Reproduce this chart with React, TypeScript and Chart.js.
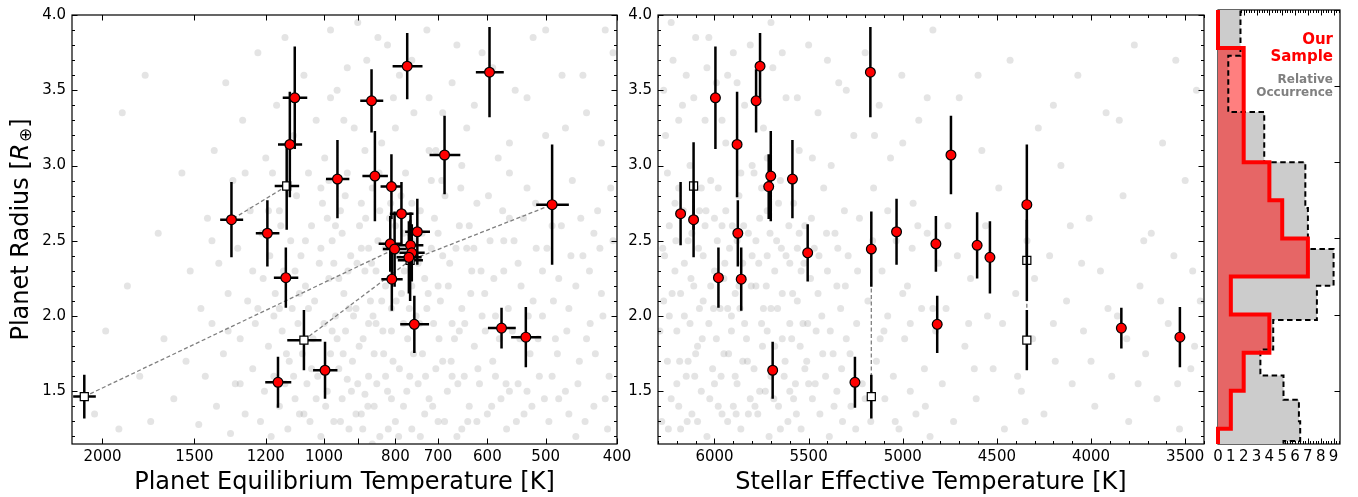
import React, { useEffect, useRef } from "react";
import { Chart, registerables } from "chart.js";

Chart.register(...registerables);

const FONT = "'DejaVu Sans', 'Liberation Sans', sans-serif";
const H = 497;

// ---------------- Sample planets ----------------
// last four entries are the alternative-host solutions (white squares)
const teq = [1336, 1194, 1096, 1113, 959, 862, 771, 596, 853, 810, 686, 785, 747, 490, 813, 802, 763, 760, 767, 1127, 809, 754, 997, 1155, 574, 532, 2117, 1124, 1065, 764];
const teqErr = [48, 44, 42, 42, 35, 31, 36, 26, 34, 28, 33, 29, 29, 25, 30, 30, 30, 30, 30, 43, 27, 34, 38, 47, 25, 25, 75, 43, 57, 30];
const teff = [6111, 5876, 5995, 5880, 5586, 5779, 5758, 5172, 5701, 5712, 4744, 6180, 5033, 4341, 4824, 5167, 4605, 5505, 4537, 5979, 5858, 4817, 5691, 5254, 3839, 3528, 5167, 6111, 4341, 4341];
const rad = [2.64, 2.55, 3.45, 3.14, 2.91, 3.43, 3.66, 3.62, 2.93, 2.86, 3.07, 2.68, 2.56, 2.74, 2.48, 2.445, 2.47, 2.42, 2.39, 2.255, 2.245, 1.945, 1.64, 1.56, 1.92, 1.86, 1.465, 2.864, 1.84, 2.37];
const radErr = [0.25, 0.22, 0.34, 0.35, 0.26, 0.21, 0.22, 0.30, 0.30, 0.215, 0.26, 0.21, 0.22, 0.40, 0.185, 0.25, 0.22, 0.19, 0.24, 0.20, 0.21, 0.19, 0.19, 0.17, 0.135, 0.20, 0.145, 0.29, 0.20, 0.27];
const altHost = [0, 0, 0, 0, 0, 0, 0, 0, 0, 0, 0, 0, 0, 0, 0, 0, 0, 0, 0, 0, 0, 0, 0, 0, 0, 0, 1, 1, 1, 1];
// planets in the same system (connected by dashed lines)
const systems = [[27, 0], [26, 15], [28, 29, 13]];

// ---------------- Histogram ----------------
const sampleEdges = [1.0, 1.25, 1.5, 1.75, 2.0, 2.25, 2.5, 2.75, 3.0, 3.25, 3.5, 3.75, 4.0];
const sampleCounts = [0, 1, 2, 4, 1, 7, 5, 4, 2, 2, 2, 0];
const occEdges = [1.05, 1.17, 1.30, 1.44, 1.60, 1.77, 1.965, 2.19, 2.43, 2.70, 3.0, 3.33, 3.70, 4.11];
const occCounts = [5.1, 6.4, 6.3, 5.1, 3.3, 4.3, 7.7, 9.0, 7.0, 6.8, 3.6, 0.8, 1.75];

// ---------------- Background population ----------------
const bgTeqRad = [
  [2050, 1.35], [1980, 1.9], [1900, 1.25], [1850, 2.2], [1780, 1.6], [1720, 1.3], [1680, 2.55], [1650, 1.85], [1600, 1.45], [1560, 2.95], [1540, 1.7], [1520, 2.3], [1880, 3.35], [1750, 3.6],
  [1480, 1.28], [1470, 2.05], [1450, 1.6], [1440, 2.65], [1420, 1.95], [1410, 3.1], [1400, 1.4], [1390, 2.35], [1370, 1.75], [1360, 3.55], [1350, 2.15], [1340, 1.22], [1330, 2.9], [1320, 1.55], [1310, 2.45], [1300, 1.85], [1290, 3.3], [1280, 1.35], [1270, 2.1], [1260, 2.7], [1250, 1.65], [1240, 1.95], [1230, 3.75], [1220, 1.3], [1215, 2.55], [1210, 2.25], [1205, 1.5], [1200, 3.05],
  [1190, 1.8], [1185, 2.4], [1180, 1.2], [1175, 2.95], [1170, 1.6], [1165, 2.15], [1160, 3.4], [1150, 1.4], [1145, 2.6], [1140, 1.9], [1135, 2.3], [1130, 3.85], [1120, 1.25], [1115, 1.7], [1110, 2.5], [1105, 2.05], [1100, 3.2], [1095, 1.45], [1090, 2.8], [1085, 1.95], [1080, 1.35], [1075, 2.4], [1070, 1.75], [1065, 3.6], [1060, 2.2], [1055, 1.55], [1050, 2.95], [1045, 1.3], [1040, 2.6], [1035, 1.85], [1030, 2.1], [1025, 3.3], [1020, 1.6], [1015, 2.35], [1010, 1.2], [1005, 2.75], [1000, 1.95], [998, 3.05],
  [990, 1.5], [985, 2.25], [980, 1.75], [975, 2.5], [970, 1.3], [965, 2.0], [960, 3.5], [955, 1.65], [950, 2.7], [945, 1.45], [940, 2.15], [935, 1.9], [930, 2.95], [925, 1.25], [920, 2.4], [915, 1.7], [910, 3.25], [905, 2.05], [900, 1.55], [895, 2.6], [890, 1.35], [885, 1.85], [880, 2.3], [875, 3.7], [870, 1.6], [865, 2.1], [860, 2.85], [855, 1.4], [850, 1.95], [845, 2.5], [840, 1.2], [835, 3.15], [830, 1.75], [825, 2.2], [820, 1.5], [815, 2.65], [810, 1.9], [805, 3.45], [800, 1.3], [980, 3.9], [940, 3.3], [900, 3.95], [860, 1.15], [820, 3.8], [890, 2.45], [850, 2.3], [810, 2.05], [970, 2.35], [930, 1.58], [880, 1.48],
  [795, 2.4], [790, 1.65], [785, 2.15], [780, 1.4], [775, 2.95], [770, 1.85], [765, 2.55], [760, 1.25], [755, 3.35], [750, 2.0], [745, 1.55], [740, 2.7], [735, 1.75], [730, 2.25], [725, 3.9], [720, 1.45], [715, 2.45], [710, 1.95], [705, 3.1], [700, 1.3], [695, 2.1], [690, 1.7], [685, 2.8], [680, 1.5], [675, 2.35], [670, 3.55], [665, 1.85], [660, 1.2], [655, 2.6], [650, 2.05], [645, 1.6], [640, 3.25], [635, 1.4], [630, 2.3], [625, 1.8], [620, 2.75], [615, 1.55], [610, 3.75], [605, 2.15], [600, 1.35], [790, 3.6], [760, 2.2], [730, 1.35], [700, 2.55], [670, 1.95], [640, 2.45], [780, 1.95], [720, 3.45], [650, 1.25], [610, 2.0],
  [595, 2.5], [590, 1.7], [585, 2.0], [580, 3.05], [575, 1.45], [570, 2.3], [565, 1.25], [560, 2.65], [555, 1.9], [550, 3.5], [545, 1.55], [540, 2.2], [535, 1.35], [530, 2.85], [525, 1.75], [520, 3.85], [515, 2.45], [510, 1.6], [505, 2.0], [500, 3.2], [495, 1.3], [490, 2.6], [485, 1.85], [480, 2.25], [475, 3.6], [470, 1.5], [465, 2.05], [460, 2.9], [455, 1.2], [450, 1.7], [445, 2.4], [440, 3.35], [435, 1.95], [430, 1.4], [425, 2.7], [420, 2.15], [415, 3.9], [410, 1.6], [405, 2.5], [560, 1.5], [520, 2.1], [480, 1.45], [440, 1.85],
  [960, 1.85], [945, 2.55], [925, 2.05], [905, 1.35], [890, 2.75], [870, 2.45], [855, 1.75], [840, 2.7], [825, 1.6], [800, 2.6], [780, 2.55], [765, 1.6], [745, 2.35], [725, 2.05], [705, 1.65], [690, 2.4], [670, 1.6], [655, 1.9], [635, 2.6], [620, 1.3], [990, 2.65], [1010, 2.45], [1040, 1.65], [1060, 2.5], [1080, 2.15], [1100, 1.6], [1130, 1.55], [1150, 2.05], [870, 1.95], [835, 2.1], [810, 1.45], [760, 2.75], [740, 1.2], [715, 2.9], [700, 2.2], [585, 1.6], [570, 2.5], [545, 2.35], [530, 1.5], [505, 2.3], [490, 1.6], [465, 1.35], [455, 2.2], [430, 2.55], [415, 1.45],
  [995, 1.4], [985, 2.9], [975, 1.9], [965, 2.6], [955, 2.25], [950, 1.3], [942, 1.75], [936, 2.8], [928, 2.3], [918, 1.5], [912, 2.0], [902, 2.35], [896, 1.8], [886, 1.25], [878, 2.65], [872, 1.4], [862, 2.35], [858, 2.0], [848, 1.55], [842, 2.95], [832, 1.9], [826, 2.45], [818, 1.25], [812, 2.75], [806, 1.7], [798, 2.1], [792, 1.2], [786, 2.8], [778, 2.3], [772, 1.5], [766, 2.05], [756, 1.75], [752, 2.5], [742, 1.95], [736, 2.55], [728, 1.6], [722, 2.15], [712, 1.4], [708, 2.65], [698, 1.85], [692, 2.9], [686, 1.3], [678, 2.2], [672, 1.7], [662, 2.45], [658, 1.55], [652, 2.85], [644, 1.95], [638, 1.3], [632, 2.15], [626, 2.45], [618, 1.65], [612, 2.3], [604, 1.9], [598, 2.8], [592, 1.4], [588, 2.25], [578, 1.85], [572, 2.7], [566, 1.55], [562, 2.05], [552, 2.5], [548, 1.3], [542, 1.85], [536, 2.65], [528, 2.0], [522, 1.4], [516, 2.75], [512, 1.85], [502, 1.45], [498, 2.45], [488, 2.1], [482, 1.75], [476, 2.6], [468, 1.9], [462, 2.4], [452, 1.55], [448, 2.65], [442, 1.3], [436, 2.3], [428, 1.75], [422, 2.45], [418, 2.0], [412, 1.25], [408, 2.85],
  [1190, 2.7], [1170, 2.0], [1150, 2.7], [1125, 1.75], [1095, 2.3], [1065, 1.35], [1050, 2.05], [1025, 1.45], [1010, 2.85], [1250, 2.3], [1300, 1.55], [1350, 1.9], [1420, 2.5], [1280, 2.95], [1230, 2.05],
  [980, 3.45], [930, 3.65], [880, 3.1], [845, 3.85], [800, 3.25], [760, 3.7], [720, 3.1], [690, 3.35], [660, 3.8], [625, 3.4], [590, 3.65], [560, 3.15], [530, 3.45], [500, 3.9], [470, 3.25], [445, 3.6], [420, 3.15], [405, 3.75], [650, 3.0], [560, 2.95],
];
const bgTeffRad = [
  [6280, 1.3], [6270, 2.1], [6260, 3.2], [6250, 1.7], [6240, 2.6], [6230, 1.45], [6220, 3.7], [6210, 2.3], [6200, 1.9], [6190, 2.85], [6180, 1.25], [6170, 3.4], [6160, 2.0], [6150, 1.6], [6140, 2.5], [6130, 3.0], [6120, 1.35], [6110, 2.2], [6100, 3.85], [6090, 1.8], [6080, 2.7], [6070, 1.5], [6060, 2.4], [6050, 3.3], [6040, 1.2], [6030, 1.95], [6020, 2.9], [6010, 1.65], [6000, 2.3], [5990, 3.55], [5980, 1.4], [5970, 2.05], [5960, 2.6], [5950, 1.75], [5940, 3.15], [5930, 1.3], [5920, 2.45], [5910, 1.9], [5900, 3.75], [5890, 2.15], [5880, 1.55], [5870, 2.8], [5860, 1.25], [5850, 2.35], [5840, 3.4], [5830, 1.85], [5820, 2.55], [5810, 1.45], [5800, 3.0], [6250, 2.95], [6150, 3.6], [6050, 2.6], [5950, 2.25], [5850, 1.7], [6200, 1.55], [6100, 1.75], [6000, 1.55], [5900, 1.4], [6275, 2.45], [6180, 2.15], [6080, 2.05], [5980, 2.85], [5880, 2.5], [6230, 3.95], [6130, 1.95], [6030, 3.85], [5930, 3.6],
  [5790, 1.65], [5780, 2.2], [5770, 1.35], [5760, 2.65], [5750, 1.95], [5740, 3.25], [5730, 1.5], [5720, 2.4], [5710, 1.2], [5700, 2.05], [5690, 3.65], [5680, 1.8], [5670, 2.5], [5660, 1.4], [5650, 2.9], [5640, 2.15], [5630, 1.6], [5620, 3.45], [5610, 1.3], [5600, 2.35], [5590, 1.85], [5580, 2.75], [5570, 1.55], [5560, 2.1], [5550, 3.1], [5540, 1.25], [5530, 1.95], [5520, 2.6], [5510, 1.7], [5500, 3.8], [5490, 2.25], [5480, 1.45], [5470, 2.45], [5460, 1.9], [5450, 3.35], [5440, 1.35], [5430, 2.0], [5420, 2.85], [5410, 1.6], [5400, 2.3], [5390, 1.2], [5380, 3.0], [5370, 1.75], [5360, 2.55], [5350, 1.5], [5340, 3.55], [5330, 2.05], [5320, 1.3], [5310, 2.7], [5300, 1.85], [5750, 2.85], [5650, 1.25], [5550, 2.55], [5450, 2.15], [5350, 2.2], [5700, 3.95], [5600, 1.5], [5500, 1.55],
  [5290, 2.4], [5275, 1.4], [5260, 3.2], [5245, 1.95], [5230, 2.65], [5215, 1.55], [5200, 3.75], [5185, 2.1], [5170, 1.3], [5155, 2.85], [5140, 1.7], [5125, 3.4], [5110, 2.3], [5095, 1.45], [5080, 2.0], [5065, 3.05], [5050, 1.6], [5035, 2.5], [5020, 1.25], [5005, 3.6], [4990, 1.85], [4975, 2.2], [4960, 1.5], [4945, 2.75], [4930, 1.35], [4915, 3.3], [4900, 2.05], [4885, 1.65], [4870, 2.55], [4855, 1.2], [4840, 3.9], [4825, 1.9], [4810, 2.35], [5250, 1.25], [5100, 1.9], [4950, 2.45],
  [4790, 1.55], [4760, 2.6], [4730, 1.3], [4700, 3.45], [4670, 1.8], [4640, 2.25], [4610, 1.45], [4580, 3.1], [4550, 2.0], [4520, 1.65], [4490, 2.85], [4460, 1.25], [4430, 3.7], [4400, 2.15], [4370, 1.5], [4340, 2.5], [4310, 1.85], [4280, 3.25], [4250, 1.35], [4220, 2.4], [4190, 1.7], [4160, 3.0], [4130, 2.1], [4100, 1.55], [4070, 3.6], [4040, 1.9], [4010, 2.65], [3980, 1.4], [3950, 2.3], [3920, 3.35], [3890, 1.6], [3860, 2.0], [3830, 2.8], [3800, 1.3], [3770, 3.8], [3740, 2.2], [3710, 1.75], [3680, 2.55], [3650, 1.45], [3620, 3.15], [3590, 1.95], [3560, 2.4], [3530, 1.25], [3500, 2.9], [3470, 1.65], [3440, 3.5], [3420, 2.1], [4650, 1.95], [4350, 1.3], [4050, 2.35], [3750, 1.55], [3450, 1.8],
  [6240, 2.0], [6190, 1.4], [6160, 2.35], [6120, 2.55], [6090, 1.3], [6060, 2.1], [6020, 2.2], [5990, 1.85], [5960, 1.35], [5940, 2.7], [5910, 2.0], [5890, 1.6], [5870, 2.2], [5840, 1.95], [5820, 1.35], [5800, 2.4], [5780, 2.5], [5760, 1.5], [5740, 2.05], [5720, 2.7], [5700, 1.6], [5680, 2.3], [5660, 2.75], [5640, 1.85], [5620, 2.4], [5600, 1.95], [5580, 1.45], [5560, 2.45], [5540, 2.3], [5520, 1.65], [6210, 2.75], [6140, 1.7], [6070, 2.85], [6000, 2.65], [5930, 2.05], [5860, 2.95], [5790, 2.95], [5720, 1.9],
  [6290, 1.9], [6265, 2.4], [6245, 1.25], [6225, 2.15], [6205, 2.5], [6185, 1.7], [6165, 2.7], [6145, 1.3], [6125, 2.25], [6105, 1.6], [6085, 2.45], [6065, 1.85], [6045, 2.7], [6025, 1.45], [6005, 2.05], [5985, 2.5], [5965, 1.6], [5945, 2.35], [5925, 1.75], [5905, 2.6], [5885, 1.35], [5865, 2.05], [5845, 2.6], [5825, 1.7], [5805, 2.2], [5785, 1.4], [5765, 2.35], [5745, 1.8], [5725, 2.2], [5705, 2.55], [5685, 1.45], [5665, 2.05], [5645, 2.45], [5625, 1.7], [5605, 2.6], [5585, 2.15], [5565, 1.35], [5545, 1.8], [5525, 2.35], [5505, 1.95], [5485, 2.65], [5465, 1.55], [5445, 2.4], [5425, 1.75], [5405, 2.55], [5385, 1.9], [5365, 1.4], [5345, 2.45], [5325, 1.65], [5305, 2.2],
  [6270, 3.5], [6190, 3.3], [6110, 3.45], [6040, 3.65], [5960, 3.3], [5880, 3.55], [5810, 3.8], [5720, 3.05], [5640, 3.75], [5560, 3.45], [5480, 3.05], [5400, 3.7],
  [5280, 1.75], [5240, 2.3], [5200, 1.45], [5160, 2.5], [5120, 1.85], [5080, 2.7], [5040, 1.3], [5000, 2.15], [4960, 1.95], [4920, 2.6], [4880, 1.4], [4840, 2.05], [5300, 3.5], [5150, 3.2], [5000, 3.15], [4870, 3.45],
  [4770, 2.05], [4710, 2.4], [4620, 1.65], [4560, 2.6], [4470, 1.95], [4390, 1.6], [4300, 2.25], [4200, 1.95], [4110, 2.6], [4000, 1.7], [3910, 2.05], [3810, 1.85], [3720, 2.5], [3630, 2.1], [3540, 1.55], [3460, 2.3], [4600, 3.6], [4200, 3.4], [3850, 3.3], [3550, 3.7],
];

// ---------------- Axis ticks ----------------
const teqTicks = [2000, 1500, 1200, 1000, 900, 800, 700, 600, 500, 400];
const teqTickLabels = ["2000", "1500", "1200", "1000", "", "800", "700", "600", "500", "400"];
const teffTicks = [6000, 5500, 5000, 4500, 4000, 3500];
const radTicks = [1.5, 2.0, 2.5, 3.0, 3.5, 4.0];
const countTicks = [0, 1, 2, 3, 4, 5, 6, 7, 8, 9];

function range(a: number, b: number, step: number) {
  const out: number[] = [];
  for (let k = 0; a + k * step <= b + 1e-9; k++) out.push(+(a + k * step).toFixed(4));
  return out;
}
const radMinor = range(1.2, 4.0, 0.1);
const teffMinor = range(3400, 6300, 100);
const countMinor = range(0, 9.4, 0.2);

const tickFont = { family: FONT, size: 15 };
const BG = "rgba(128,128,128,0.21)";

// ---------------- Plugins ----------------
function framePlugin(cfg: any) {
  const draw = (chart: any) => {
    const { ctx, chartArea: a } = chart;
    const xs = chart.scales.x, ys = chart.scales.y;
    ctx.save();
    ctx.strokeStyle = "#000";
    ctx.lineWidth = 1;
    ctx.beginPath();
    const tickX = (vals: number[], len: number) =>
      vals.forEach((v) => {
        const p = Math.round(xs.getPixelForValue(v)) + 0.5;
        if (p < a.left - 1 || p > a.right + 1) return;
        ctx.moveTo(p, a.bottom); ctx.lineTo(p, a.bottom - len);
        ctx.moveTo(p, a.top); ctx.lineTo(p, a.top + len);
      });
    const tickY = (vals: number[], len: number) =>
      vals.forEach((v) => {
        const p = Math.round(ys.getPixelForValue(v)) + 0.5;
        if (p < a.top - 1 || p > a.bottom + 1) return;
        ctx.moveTo(a.left, p); ctx.lineTo(a.left + len, p);
        ctx.moveTo(a.right, p); ctx.lineTo(a.right - len, p);
      });
    tickX(cfg.xMajor, 5.5);
    tickX(cfg.xMinor || [], 3);
    tickY(cfg.yMajor, 5.5);
    tickY(cfg.yMinor || [], 3);
    ctx.stroke();
    ctx.lineWidth = 1.2;
    ctx.strokeRect(a.left, a.top, a.right - a.left, a.bottom - a.top);
    ctx.restore();
  };
  return {
    id: "frame",
    beforeDatasetsDraw(c: any) { if (cfg.under) draw(c); },
    afterDatasetsDraw(c: any) { if (!cfg.under) draw(c); },
  };
}

const errPlugin = {
  id: "errbars",
  beforeDatasetDraw(chart: any, args: any) {
    const ds = chart.data.datasets[args.index];
    if (!ds.errY) return;
    const { ctx, chartArea: a } = chart;
    const xs = chart.scales.x, ys = chart.scales.y;
    ctx.save();
    ctx.beginPath();
    ctx.rect(a.left, a.top, a.right - a.left, a.bottom - a.top);
    ctx.clip();
    ctx.strokeStyle = "#000";
    ctx.lineWidth = 2.5;
    ctx.beginPath();
    ds.data.forEach((p: any, i: number) => {
      const px = xs.getPixelForValue(p.x), py = ys.getPixelForValue(p.y);
      const ey = ds.errY[i];
      ctx.moveTo(px, ys.getPixelForValue(p.y - ey));
      ctx.lineTo(px, ys.getPixelForValue(p.y + ey));
      if (ds.errX) {
        const ex = ds.errX[i];
        ctx.moveTo(xs.getPixelForValue(p.x - ex), py);
        ctx.lineTo(xs.getPixelForValue(p.x + ex), py);
      }
    });
    ctx.stroke();
    ctx.restore();
  },
};

const yTitlePlugin = {
  id: "ytitle",
  afterDraw(chart: any) {
    const { ctx, chartArea: a } = chart;
    const cy = (a.top + a.bottom) / 2, cx = 22;
    const parts: any[] = [
      { t: "Planet Radius [", f: `24px ${FONT}`, dy: 0 },
      { t: "R", f: `italic 24px ${FONT}`, dy: 0 },
      { t: "\u2295", f: `17px ${FONT}`, dy: 5 },
      { t: "]", f: `24px ${FONT}`, dy: 0 },
    ];
    ctx.save();
    let total = 0;
    parts.forEach((p) => { ctx.font = p.f; p.w = ctx.measureText(p.t).width + (p.t === "R" ? 1.5 : 0); total += p.w; });
    ctx.translate(cx, cy);
    ctx.rotate(-Math.PI / 2);
    ctx.fillStyle = "#000";
    ctx.textBaseline = "middle";
    ctx.textAlign = "left";
    let x = -total / 2;
    parts.forEach((p) => { ctx.font = p.f; ctx.fillText(p.t, x, p.dy); x += p.w; });
    ctx.restore();
  },
};

const histLabels = [
  { t: "Our", c: "#ff0000", f: `bold 15px ${FONT}`, y: 40 },
  { t: "Sample", c: "#ff0000", f: `bold 15px ${FONT}`, y: 57 },
  { t: "Relative", c: "#808080", f: `bold 12px ${FONT}`, y: 79.5 },
  { t: "Occurrence", c: "#808080", f: `bold 12px ${FONT}`, y: 93 },
];
const histTextPlugin = {
  id: "histText",
  afterDatasetsDraw(chart: any) {
    const { ctx, chartArea: a } = chart;
    ctx.save();
    ctx.textAlign = "right";
    ctx.textBaseline = "middle";
    histLabels.forEach((l) => { ctx.fillStyle = l.c; ctx.font = l.f; ctx.fillText(l.t, a.right - 7, l.y); });
    ctx.restore();
  },
};

// ---------------- Config builders ----------------
const baseOpts = {
  animation: false,
  responsive: false,
  devicePixelRatio: 1,
  events: [],
  plugins: { legend: { display: false }, tooltip: { enabled: false } },
};

function yAxis(width: number, display = true) {
  return {
    type: "linear",
    min: 1.15,
    max: 4.0,
    display,
    grid: { display: false, drawTicks: false },
    border: { display: false },
    afterBuildTicks: (s: any) => { s.ticks = radTicks.map((v) => ({ value: v })); },
    ticks: { color: "#000", font: tickFont, padding: 6, autoSkip: false, callback: (v: any) => Number(v).toFixed(1) },
    afterFit: (s: any) => { s.width = width; },
  };
}

function xTitle(text: string) {
  return { display: true, text, color: "#000", font: { family: FONT, size: 24 }, padding: { top: 0, bottom: 0 } };
}

function sampleDatasets(xVals: number[], xErr: number[] | null) {
  const red: any[] = [], white: any[] = [];
  const rEx: number[] = [], rEy: number[] = [], wEx: number[] = [], wEy: number[] = [];
  xVals.forEach((xv, i) => {
    const p = { x: xv, y: rad[i] };
    if (altHost[i]) { white.push(p); wEy.push(radErr[i]); if (xErr) wEx.push(xErr[i]); }
    else { red.push(p); rEy.push(radErr[i]); if (xErr) rEx.push(xErr[i]); }
  });
  const connectors = systems.map((sys) => ({
    data: sys.map((i) => ({ x: xVals[i], y: rad[i] })),
    showLine: true,
    pointRadius: 0,
    borderColor: "rgb(128,128,128)",
    borderWidth: 1.3,
    borderDash: [4, 2.5],
    fill: false,
    order: 5,
    clip: 0,
  }));
  return [
    ...connectors,
    {
      data: white, errY: wEy, errX: xErr ? wEx : null,
      pointStyle: "rect", pointRadius: 5.7,
      pointBackgroundColor: "#ffffff", pointBorderColor: "#000", pointBorderWidth: 1.2,
      order: 3,
    },
    {
      data: red, errY: rEy, errX: xErr ? rEx : null,
      pointStyle: "circle", pointRadius: 4.9,
      pointBackgroundColor: "#ff0000", pointBorderColor: "#000", pointBorderWidth: 1.2,
      order: 2,
    },
  ];
}

function bgDataset(pairs: number[][]) {
  return {
    data: pairs.map(([x, y]) => ({ x, y })),
    pointRadius: 3.5,
    pointBackgroundColor: BG,
    pointBorderWidth: 0,
    pointBorderColor: "rgba(0,0,0,0)",
    order: 10,
    clip: 0,
  };
}

function leftConfig(): any {
  return {
    type: "scatter",
    data: { datasets: [bgDataset(bgTeqRad), ...sampleDatasets(teq, teqErr)] },
    options: {
      ...baseOpts,
      layout: { padding: { left: 0, right: 23, top: 10, bottom: 0 } },
      scales: {
        x: {
          type: "logarithmic",
          reverse: true,
          min: 400,
          max: 2200,
          grid: { display: false, drawTicks: false },
          border: { display: false },
          afterBuildTicks: (s: any) => { s.ticks = teqTicks.map((v) => ({ value: v })); },
          ticks: {
            color: "#000", font: tickFont, padding: 4, autoSkip: false, maxRotation: 0, minRotation: 0,
            callback: (v: any) => { const i = teqTicks.indexOf(Number(v)); return i >= 0 ? teqTickLabels[i] : ""; },
          },
          afterFit: (s: any) => { s.height = 53; },
          title: xTitle("Planet Equilibrium Temperature [K]"),
        },
        y: yAxis(72),
      },
    },
    plugins: [errPlugin, framePlugin({ xMajor: teqTicks, yMajor: radTicks, yMinor: radMinor }), yTitlePlugin],
  };
}

function midConfig(): any {
  return {
    type: "scatter",
    data: { datasets: [bgDataset(bgTeffRad), ...sampleDatasets(teff, null)] },
    options: {
      ...baseOpts,
      layout: { padding: { left: 0, right: 20, top: 10, bottom: 0 } },
      scales: {
        x: {
          type: "linear",
          reverse: true,
          min: 3400,
          max: 6300,
          grid: { display: false, drawTicks: false },
          border: { display: false },
          afterBuildTicks: (s: any) => { s.ticks = teffTicks.map((v) => ({ value: v })); },
          ticks: { color: "#000", font: tickFont, padding: 4, autoSkip: false, maxRotation: 0, minRotation: 0, callback: (v: any) => String(v) },
          afterFit: (s: any) => { s.height = 53; },
          title: xTitle("Stellar Effective Temperature [K]"),
        },
        y: yAxis(38),
      },
    },
    plugins: [errPlugin, framePlugin({ xMajor: teffTicks, xMinor: teffMinor, yMajor: radTicks, yMinor: radMinor })],
  };
}

function stepOutline(edges: number[], counts: number[]) {
  const pts = [{ x: 0, y: edges[0] }];
  counts.forEach((c, i) => { pts.push({ x: c, y: edges[i] }); pts.push({ x: c, y: edges[i + 1] }); });
  pts.push({ x: 0, y: edges[edges.length - 1] });
  return pts;
}

function histConfig(): any {
  const lineBase = { showLine: true, pointRadius: 0, tension: 0, borderJoinStyle: "miter" };
  return {
    type: "scatter",
    data: {
      datasets: [
        { ...lineBase, data: stepOutline(occEdges, occCounts), borderColor: "rgba(0,0,0,0)", borderWidth: 1, backgroundColor: "#cccccc", fill: "shape", order: 4, clip: 0 },
        { ...lineBase, data: stepOutline(sampleEdges, sampleCounts), borderColor: "rgba(0,0,0,0)", borderWidth: 1, backgroundColor: "rgba(255,0,0,0.5)", fill: "shape", order: 3, clip: 0 },
        { ...lineBase, data: stepOutline(occEdges, occCounts), borderColor: "#000", borderWidth: 2, borderDash: [5.5, 3.5], fill: false, order: 2, clip: 0 },
        { ...lineBase, data: stepOutline(sampleEdges, sampleCounts), borderColor: "#ff0000", borderWidth: 4, fill: false, order: 1, clip: { left: 3, top: 0, right: 0, bottom: 0 } },
      ],
    },
    options: {
      ...baseOpts,
      layout: { padding: { left: 14, right: 18, top: 10, bottom: 0 } },
      scales: {
        x: {
          type: "linear",
          min: 0,
          max: 9.5,
          grid: { display: false, drawTicks: false },
          border: { display: false },
          afterBuildTicks: (s: any) => { s.ticks = countTicks.map((v) => ({ value: v })); },
          ticks: { color: "#000", font: tickFont, padding: 4, autoSkip: false, maxRotation: 0, minRotation: 0, callback: (v: any) => String(v) },
          afterFit: (s: any) => { s.height = 53; },
        },
        y: yAxis(0, false),
      },
    },
    plugins: [framePlugin({ xMajor: countTicks, xMinor: countMinor, yMajor: radTicks, under: true }), histTextPlugin],
  };
}

function ChartCanvas({ left, width, make }: { left: number; width: number; make: () => any }) {
  const ref = useRef<HTMLCanvasElement | null>(null);
  useEffect(() => {
    if (!ref.current) return;
    const chart = new Chart(ref.current, make());
    return () => chart.destroy();
  }, []);
  return (
    <canvas
      ref={ref}
      width={width}
      height={H}
      style={{ position: "absolute", left, top: 0, width, height: H }}
    />
  );
}

export default function App() {
  return (
    <div style={{ position: "absolute", left: 0, top: 0, width: 1358, height: H, background: "#ffffff", overflow: "hidden" }}>
      <ChartCanvas left={0} width={640} make={leftConfig} />
      <ChartCanvas left={620} width={604} make={midConfig} />
      <ChartCanvas left={1204} width={154} make={histConfig} />
    </div>
  );
}
